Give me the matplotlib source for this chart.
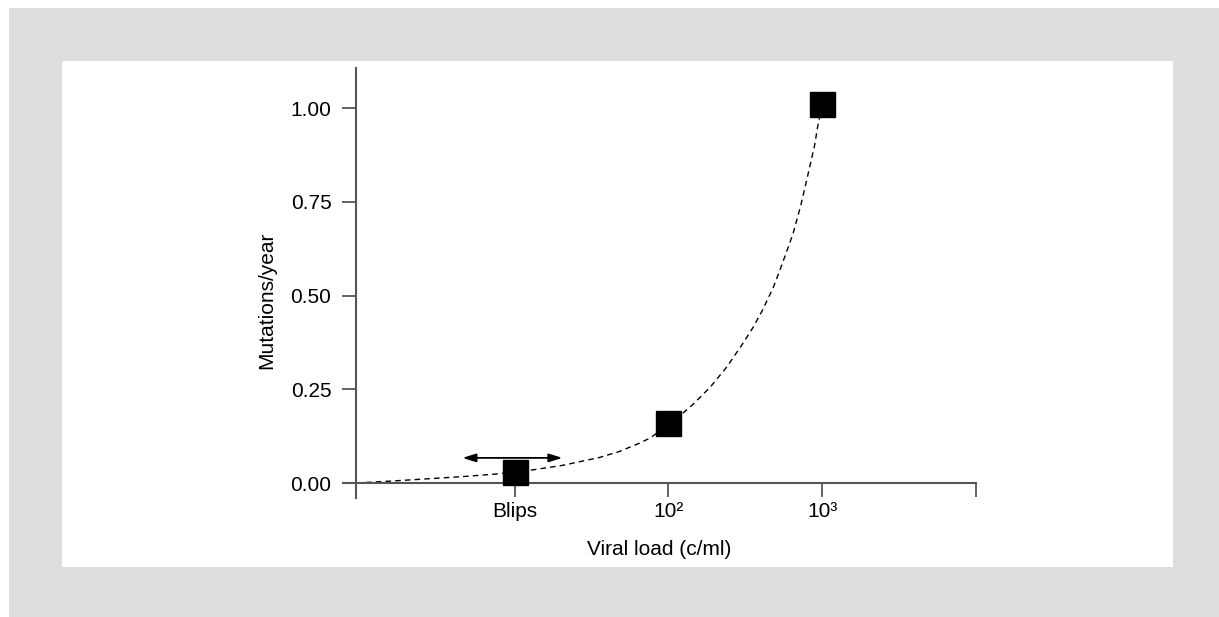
import matplotlib
matplotlib.use('Agg')
import matplotlib.pyplot as plt
from matplotlib.patches import Rectangle

plt.rcParams['font.family'] = ['Liberation Sans', 'DejaVu Sans']

# measured points (x position: Blips=1, 10^2=2, 10^3=3)
point_x = [1, 2, 3]
point_y = [0.03, 0.16, 1.01]
tick_pos = [1, 2, 3, 4]
tick_labels = ['Blips', '10²', '10³', '']
y_ticks = [0.0, 0.25, 0.50, 0.75, 1.00]

# dashed trend curve
curve_x = [-0.03, 0.23, 0.66, 0.88, 1.0, 1.10, 1.31, 1.55, 1.68, 1.81, 1.88,
           2.0, 2.07, 2.16, 2.27, 2.38, 2.48, 2.55, 2.61, 2.68, 2.74, 2.81,
           2.86, 2.90, 2.95, 2.97, 3.0]
curve_y = [0.0, 0.006, 0.017, 0.024, 0.029, 0.034, 0.047, 0.068, 0.084, 0.106,
           0.12, 0.155, 0.178, 0.21, 0.255, 0.31, 0.37, 0.415, 0.46,
           0.52, 0.585, 0.665, 0.74, 0.81, 0.9, 0.95, 1.01]

# blip range arrow
arrow_x = [0.66, 1.31]
arrow_y = 0.067

W, H = 1219, 617
fig = plt.figure(figsize=(W / 100, H / 100), dpi=100)
fig.patch.set_facecolor('white')
fig.patches.append(Rectangle((9 / W, 0), 1210 / W, 609 / H, transform=fig.transFigure,
                             facecolor='#dcdddf', edgecolor='none', zorder=-10))
fig.patches.append(Rectangle((62 / W, 50 / H), 1111 / W, 506 / H, transform=fig.transFigure,
                             facecolor='white', edgecolor='none', zorder=-9))

ax = fig.add_axes([343 / W, 119 / H, 633 / W, 430 / H])
ax.patch.set_alpha(0)

ax.plot(curve_x, curve_y, color='black', lw=1, linestyle=(0, (4, 3)), zorder=2)
ax.plot(point_x, point_y, linestyle='none', marker='s', markersize=18,
        color='black', zorder=3)
ax.annotate('', xy=(arrow_x[1], arrow_y), xytext=(arrow_x[0], arrow_y),
            arrowprops=dict(arrowstyle='<|-|>,head_length=0.8,head_width=0.25',
                            color='black', lw=1.3, shrinkA=0, shrinkB=0))

ax.set_xlim(-0.117, 4.0)
ax.set_ylim(-0.04, 1.107)
ax.spines['top'].set_visible(False)
ax.spines['right'].set_visible(False)
ax.spines['left'].set_position(('data', -0.03))
ax.spines['bottom'].set_position(('data', 0))
for s in ['left', 'bottom']:
    ax.spines[s].set_color('#555555')
    ax.spines[s].set_linewidth(1.5)

ax.set_xticks(tick_pos)
ax.set_xticklabels(tick_labels)
ax.set_yticks(y_ticks)
ax.set_yticklabels(['%.2f' % v for v in y_ticks])
ax.tick_params(axis='both', direction='out', length=10, width=1.3,
               color='#555555', labelsize=15, labelcolor='black')
ax.tick_params(axis='y', pad=8)
ax.tick_params(axis='x', pad=4)

ax.set_xlabel('Viral load (c/ml)', fontsize=15, va='center')
ax.xaxis.set_label_coords(0.5, -0.119)
ax.set_ylabel('Mutations/year', fontsize=15, va='center')
ax.yaxis.set_label_coords(-0.12, 0.46)

fig.savefig('out.png', dpi=100)
